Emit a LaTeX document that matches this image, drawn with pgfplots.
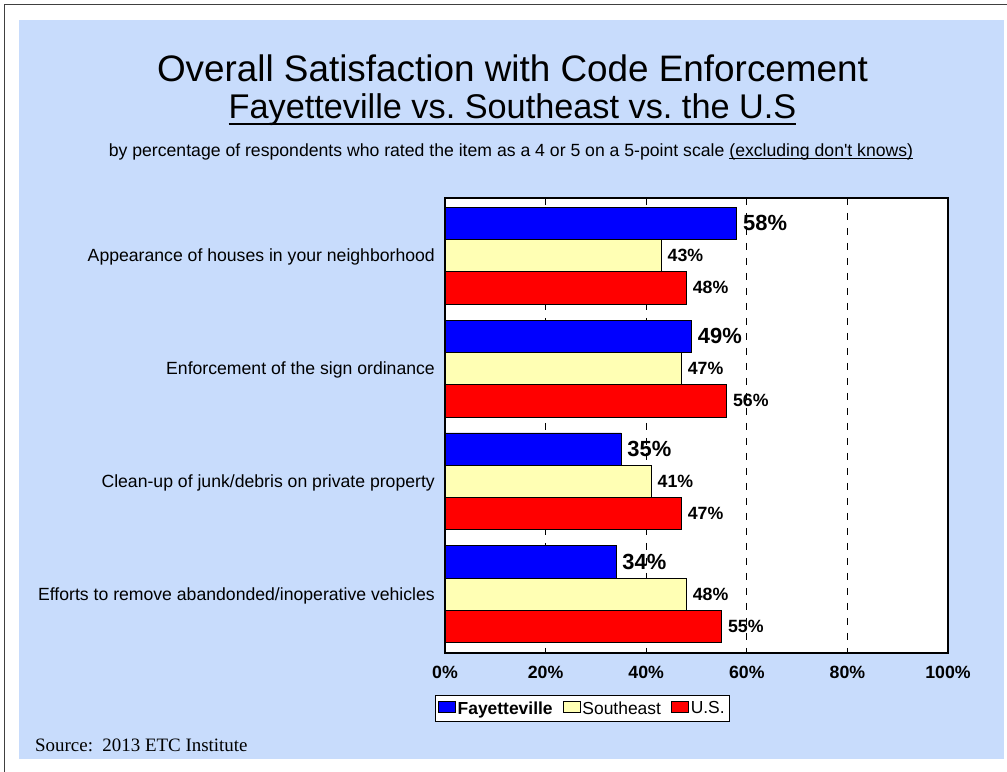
\documentclass[border=0pt]{standalone}
\usepackage{pgfplots}
\pgfplotsset{compat=1.18}
\usepackage{pgfplotstable}
\usepackage{fontspec}
\setmainfont{Liberation Sans}[Ligatures=TeXOff]
\newfontfamily\srcfont{Liberation Serif}
\definecolor{panel}{RGB}{200,220,252}
\definecolor{fay}{RGB}{0,0,255}
\definecolor{se}{RGB}{255,255,180}
\definecolor{us}{RGB}{255,0,0}
\newcommand\fs[1]{\fontsize{#1}{#1}\selectfont}
% underline: depth, thickness, text
\newcommand\ul[3]{\setbox0\hbox{#3}\rlap{\rule[-#1]{\wd0}{#2}}\box0}
\frenchspacing

\pgfplotstableread{
cat fay se us
0 58 43 48
1 49 47 56
2 35 41 47
3 34 48 55
}\data

\begin{document}
\begin{tikzpicture}[x=1bp,y=1bp]
\useasboundingbox (0,0) rectangle (1007,772);
\fill[panel] (19,13) rectangle (1004,752);
\draw[line width=1bp, black!75] (4.5,0) -- (4.5,767.5) -- (1007,767.5);

\node[anchor=base, inner sep=0] at (512.5,690) {\fs{37}Overall Satisfaction with Code Enforcement};
\node[anchor=base, inner sep=0] at (512.5,653) {\fs{34.4}\ul{6bp}{2bp}{Fayetteville vs. Southeast vs. the U.S}};
\node[anchor=base, inner sep=0] at (511,615) {\fs{17.7}by percentage of respondents who rated the item as a 4 or 5 on a 5-point scale \ul{2.5bp}{1bp}{(excluding don't knows)}};
\node[anchor=base west, inner sep=0] at (35,20) {\srcfont\fs{19}Source:\ \ 2013 ETC Institute};

\begin{axis}[
  at={(445bp,119bp)}, anchor=south west,
  scale only axis, width=503bp, height=455bp,
  xbar, bar width=0.286,
  xmin=0, xmax=100,
  ymin=-0.51, ymax=3.52, y dir=reverse,
  xtick={0,20,40,60,80,100},
  xticklabels={0\%,20\%,40\%,60\%,80\%,100\%},
  ytick={0,1,2,3},
  yticklabels={Appearance of houses in your neighborhood,Enforcement of the sign ordinance,Clean-up of junk/debris on private property,Efforts to remove abandonded/inoperative vehicles},
  major tick length=0pt,
  xmajorgrids,
  major grid style={black, line width=0.9bp, dash pattern=on 7bp off 8bp},
  axis background/.style={fill=white},
  axis line style={line width=2bp},
  xticklabel style={font=\fs{17.8}\bfseries, inner sep=0pt, text height=12.7bp, text depth=0pt, anchor=north, yshift=-13bp},
  yticklabel style={font=\fs{17.7}, inner sep=0pt, anchor=east, text height=12.7bp, text depth=0pt, xshift=-10bp},
  /pgf/number format/assume math mode=true,
  nodes near coords={\pgfmathprintnumber{\pgfplotspointmeta}\%},
  every node near coord/.append style={font=\fs{17.8}\bfseries, inner sep=0pt, anchor=west, xshift=6bp},
  clip=false,
  legend columns=-1,
  legend image code/.code={\draw[#1, line width=0.8bp] (0bp,-4bp) rectangle (17bp,7bp);},
  legend style={at={(-0.0199,-0.0923)}, anchor=north west, draw=black, line width=0.8bp, fill=white,
    inner xsep=3bp, inner ysep=4.5bp, font=\fs{17.5},
    nodes={inner sep=1.5bp},
    /tikz/every even column/.append style={column sep=9bp}},
]
\addplot[fill=fay, draw=black, line width=0.8bp, bar shift=-0.286,
  every node near coord/.append style={font=\fs{22}\bfseries}] table[x=fay, y=cat]{\data};
\addlegendentry{\textbf{Fayetteville}}
\addplot[fill=se, draw=black, line width=0.8bp, bar shift=0] table[x=se, y=cat]{\data};
\addlegendentry{Southeast}
\addplot[fill=us, draw=black, line width=0.8bp, bar shift=0.286] table[x=us, y=cat]{\data};
\addlegendentry{U.S.}
\draw[line width=2bp] (rel axis cs:0,0) rectangle (rel axis cs:1,1);
\end{axis}
\end{tikzpicture}
\end{document}
